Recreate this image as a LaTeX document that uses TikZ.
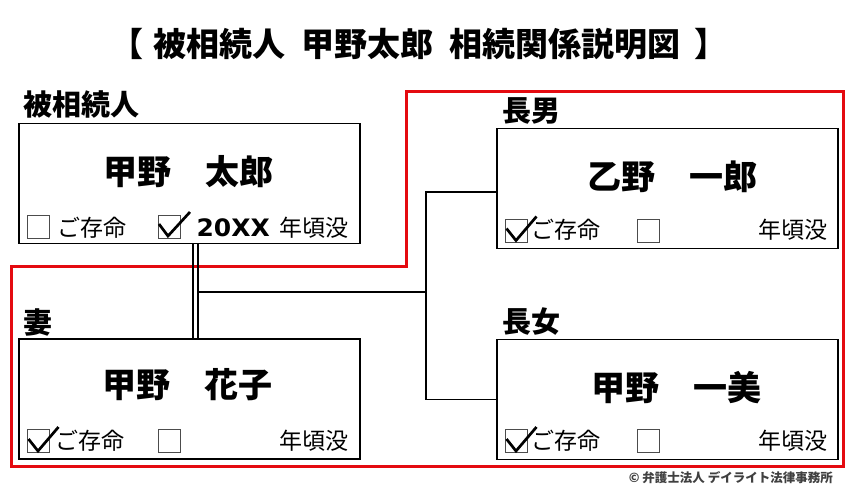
\documentclass[tikz,border=0pt]{standalone}
\usepackage{fontspec}
\usetikzlibrary{calc}
\setmainfont{Noto Sans CJK JP}
\newfontfamily\numfont{DejaVu Sans}
\definecolor{redline}{RGB}{228,10,16}
\begin{document}
\begin{tikzpicture}[x=1pt,y=-1pt,
  pbox/.style={draw=black,line width=1.7pt,minimum width=341pt,minimum height=120pt,inner sep=0pt},
  cbox/.style={draw=black!70,line width=1pt,minimum width=22pt,minimum height=23pt,inner sep=0pt},
  chk/.style={line width=2.7pt,line join=miter},
  conn/.style={line width=1.6pt},
  lbl/.style={anchor=west,inner sep=0pt,font=\fontsize{29}{33}\selectfont\bfseries},
  nm/.style={inner sep=0pt,font=\fontsize{34}{40}\selectfont\bfseries},
  sm/.style={inner sep=0pt,font=\fontsize{23}{27}\selectfont},
]
\useasboundingbox (0,0) rectangle (850,493);
\fill[white] (0,0) rectangle (850,493);
% title
\node[inner sep=0pt,font=\fontsize{33}{38}\selectfont\bfseries] (title) at (419,44) {【\kern10pt 被相続人\kern16pt 甲野太郎\kern16pt 相続関係説明図\kern14pt 】};
% red outline
\draw[redline,line width=3pt] (406,91) -- (843,91) -- (843,466) -- (11,466) -- (11,266) -- (406,266) -- cycle;
% boxes
\node[pbox] (hiso) at (189.5,183.5) {};
\node[pbox] (tsuma) at (189.5,399) {};
\node[pbox] (chonan) at (667.5,188.5) {};
\node[pbox] (chojo) at (667.5,399.5) {};
% labels
\node[lbl] (lhiso) at (23,104) {被相続人};
\node[lbl] (ltsuma) at (23,322) {妻};
\node[lbl] (lchonan) at (502,111) {長男};
\node[lbl] (lchojo) at (502,322) {長女};
% names
\node[nm] (nhiso) at (188,172) {甲野　太郎};
\node[nm] (ntsuma) at (187,385) {甲野　花子};
\node[nm] (nchonan) at (672,177) {乙野　一郎};
\node[nm] (nchojo) at (676,388) {甲野　一美};
% hiso bottom row
\node[cbox] (h1) at (38.5,227) {};
\node[sm,anchor=west] (h2) at (57,228) {ご存命};
\node[cbox] (h3) at (169,227) {};
\draw[chk] ($(h3)+(-10,-3)$) -- ($(h3)+(-1,9)$) -- ($(h3)+(21,-15)$);
\node[inner sep=0pt,anchor=east,font=\fontsize{24}{28}\numfont\bfseries] (h4) at (270,228) {\scalebox{1.04}[1]{20XX}};
\node[sm,anchor=east] (h5) at (349,228) {年頃没};
% tsuma bottom row
\node[cbox] (t1) at (38.5,441) {};
\draw[chk] ($(t1)+(-10,-2)$) -- ($(t1)+(-0.5,10)$) -- ($(t1)+(20,-14)$);
\node[sm,anchor=west] (t2) at (55,441) {ご存命};
\node[cbox] (t3) at (169.5,441) {};
\node[sm,anchor=east] (t5) at (349,441) {年頃没};
% chonan bottom row
\node[cbox] (c1) at (516.5,230.5) {};
\draw[chk] ($(c1)+(-10,-2)$) -- ($(c1)+(-0.5,10)$) -- ($(c1)+(20,-14)$);
\node[sm,anchor=west] (c2) at (531,230) {ご存命};
\node[cbox] (c3) at (648.5,230.5) {};
\node[sm,anchor=east] (c5) at (828,230) {年頃没};
% chojo bottom row
\node[cbox] (d1) at (516.5,441) {};
\draw[chk] ($(d1)+(-10,-2)$) -- ($(d1)+(-0.5,10)$) -- ($(d1)+(20,-14)$);
\node[sm,anchor=west] (d2) at (531,441) {ご存命};
\node[cbox] (d3) at (648.5,441) {};
\node[sm,anchor=east] (d5) at (828,441) {年頃没};
% connectors
\draw[conn] ([xshift=3.5pt]hiso.south) -- ([xshift=3.5pt]tsuma.north);
\draw[conn] ([xshift=8.5pt]hiso.south) -- ([xshift=8.5pt]tsuma.north);
\coordinate (cpl) at (198,292);
\coordinate (j) at (426,292);
\draw[conn] (cpl) -- (j);
\draw[conn] (j) |- ([yshift=-3.5pt]chonan.west);
\draw[conn] (j) |- (chojo.west);
% copyright
\node[inner sep=0pt,anchor=east,font=\fontsize{12.5}{15}\selectfont\bfseries,text=black!75] (copy) at (833,478) {© 弁護士法人 デイライト法律事務所};
\end{tikzpicture}
\end{document}
